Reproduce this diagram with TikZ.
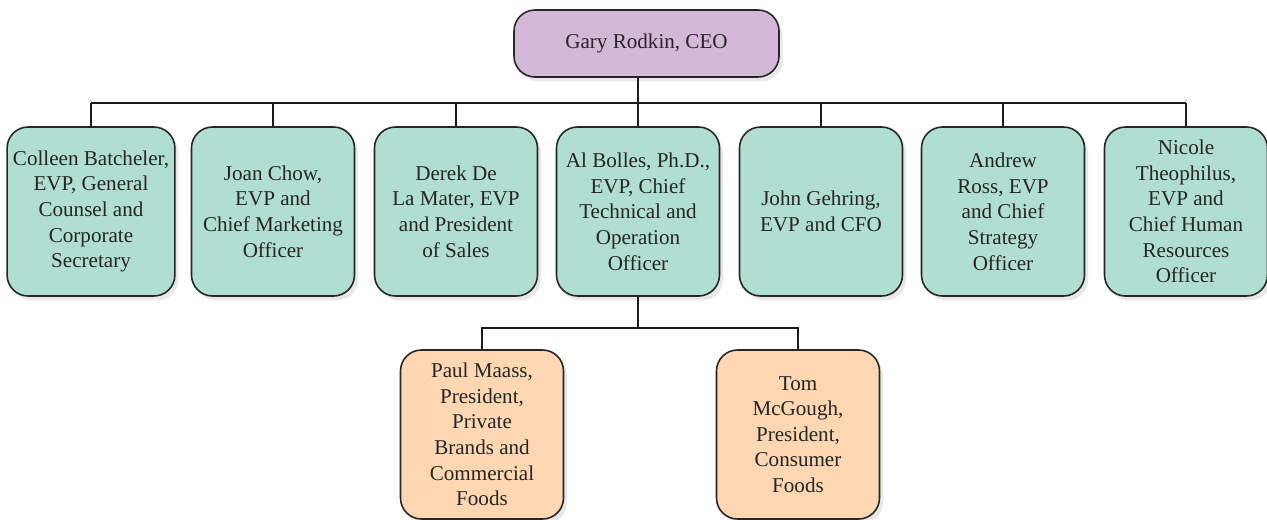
\documentclass[tikz,border=0pt]{standalone}
\usepackage{fontspec}
\setmainfont{Liberation Serif}
\usetikzlibrary{shadows}

\definecolor{ceopurple}{RGB}{212,184,216}
\definecolor{evpteal}{RGB}{176,222,208}
\definecolor{presorange}{RGB}{253,214,178}

\begin{document}
\begin{tikzpicture}[
    box/.style={draw=black!85, line width=0.9pt, rectangle, rounded corners=0.42cm, align=center,
        font=\fontsize{12}{14.6}\selectfont, text=black!85,
        drop shadow={opacity=0.18, shadow xshift=2pt, shadow yshift=-2.5pt}},
    ceobox/.style={box, fill=ceopurple, minimum width=5.3cm, minimum height=1.34cm},
    evpbox/.style={box, fill=evpteal, minimum width=3.26cm, minimum height=3.38cm},
    presbox/.style={box, fill=presorange, minimum width=3.26cm, minimum height=3.38cm},
    link/.style={draw=black!90, line width=1.4pt}
]
    \useasboundingbox (0,0) rectangle (25.34,-10.38);

    % Top
    \node[ceobox] (ceo) at (12.93,-0.87) {Gary Rodkin, CEO};

    % EVP row
    \node[evpbox] (cb) at (1.82,-4.23) {Colleen Batcheler,\\EVP, General\\Counsel and\\Corporate\\Secretary};
    \node[evpbox] (jc) at (5.46,-4.23) {Joan Chow,\\EVP and\\Chief Marketing\\Officer};
    \node[evpbox] (dd) at (9.12,-4.23) {Derek De\\La Mater, EVP\\and President\\of Sales};
    \node[evpbox] (al) at (12.76,-4.23) {Al Bolles, Ph.D.,\\EVP, Chief\\Technical and\\Operation\\Officer};
    \node[evpbox] (jg) at (16.42,-4.23) {John Gehring,\\EVP and CFO};
    \node[evpbox] (ar) at (20.06,-4.23) {Andrew\\Ross, EVP\\and Chief\\Strategy\\Officer};
    \node[evpbox] (nt) at (23.72,-4.23) {Nicole\\Theophilus,\\EVP and\\Chief Human\\Resources\\Officer};

    % Presidents under Al Bolles
    \node[presbox] (pm) at (9.64,-8.69) {Paul Maass,\\President,\\Private\\Brands and\\Commercial\\Foods};
    \node[presbox] (tm) at (15.96,-8.69) {Tom\\McGough,\\President,\\Consumer\\Foods};

    % Connectors CEO -> EVPs
    \coordinate (bus) at (12.76,-2.06);
    \draw[link] (ceo.south -| al.north) -- (al.north);
    \draw[link] (cb.north |- bus) -- (nt.north |- bus);
    \foreach \n in {cb,jc,dd,jg,ar,nt}
        \draw[link] (\n.north |- bus) -- (\n.north);

    % Connectors Al Bolles -> Presidents
    \coordinate (branch) at (12.76,-6.56);
    \draw[link] (al.south) -- (branch);
    \draw[link] (pm.north) |- (branch) -| (tm.north);

\end{tikzpicture}
\end{document}
